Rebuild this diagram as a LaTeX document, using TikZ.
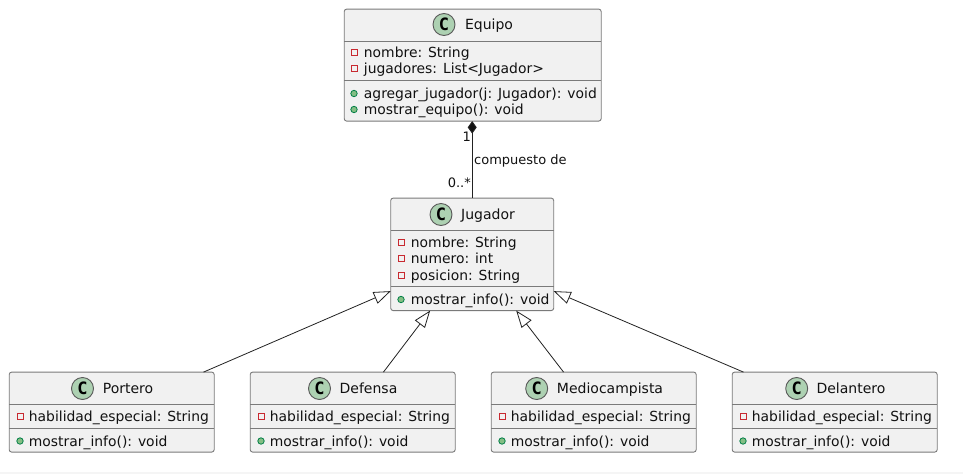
\documentclass[tikz,border=0pt]{standalone}
\usepackage{fontspec}
\setmainfont{DejaVu Sans}
\newfontfamily\badgefont{DejaVu Sans Mono}
\usetikzlibrary{arrows.meta,calc}
\definecolor{boxfill}{HTML}{F1F1F1}
\definecolor{boxline}{HTML}{7A7A7A}
\definecolor{classgreen}{HTML}{ADD1B2}
\definecolor{privred}{HTML}{C82930}
\definecolor{pubfill}{HTML}{84BE84}
\definecolor{publine}{HTML}{038048}
\definecolor{ink}{HTML}{111111}
\definecolor{wire}{HTML}{222222}
\tikzset{
  classbox/.style={draw=boxline,fill=boxfill,line width=.9pt,rounded corners=2.5pt,inner sep=0pt,outer sep=0pt,anchor=north west},
  sepline/.style={draw=boxline,line width=.9pt},
  badge/.style={circle,draw=ink!70,fill=classgreen,line width=.9pt,minimum size=22pt,inner sep=0pt,text=black,font=\fontsize{17}{17}\badgefont\bfseries},
  privmark/.style={rectangle,draw=privred,line width=.9pt,minimum size=6pt,inner sep=0pt},
  pubmark/.style={circle,draw=publine,fill=pubfill,line width=.8pt,minimum size=6.4pt,inner sep=0pt},
  member/.style={anchor=base west,inner sep=0pt,text=ink,font=\fontsize{13.9}{16}\selectfont},
  titletext/.style={anchor=base,inner sep=0pt,text=ink,font=\fontsize{14}{16}\selectfont},
  linktext/.style={inner sep=0pt,text=ink,font=\fontsize{13}{15}\selectfont},
  inherit/.style={draw=wire,line width=.8pt,{Triangle[open,length=17pt,width=12.5pt,fill=white]}-},
  compose/.style={draw=wire,line width=.9pt,{Diamond[length=12.5pt,width=9pt,fill=ink]}-},
}
\newcommand{\classbox}[7]{% name x y w h sep1 sep2
  \node[classbox,minimum width=#4pt,minimum height=#5pt] (#1) at (#2-.3,#3-.4) {};
  \draw[sepline] (#2-.3,#6-.4) -- ++(#4,0);
  \draw[sepline] (#2-.3,#7-.4) -- ++(#4,0);
}
\newcommand{\priv}[5]{% name markx textx y text
  \node[privmark] (#1m) at (#2-.5,#4-.5) {};
  \node[member] (#1) at (#3-.3,#4+4.5) {#5};
}
\newcommand{\publ}[5]{%
  \node[pubmark] (#1m) at (#2-.5,#4-.5) {};
  \node[member] (#1) at (#3-.3,#4+4.5) {#5};
}
\begin{document}
\begin{tikzpicture}[x=1pt,y=-1pt]
\useasboundingbox (0,0) rectangle (963,474);
\fill[white] (0,0) rectangle (963,474);
\fill[black!4] (0,471.5) rectangle (963,474);

% Equipo
\classbox{equipo}{344.5}{9.5}{257}{112}{41.5}{80.5}
\node[badge] (equipoC) at (444,24.5) {C};
\node[titletext] (equipoT) at (489,29) {Equipo};
\priv{eqa}{354.5}{364}{53}{nombre: String}
\priv{eqb}{354.5}{364}{69}{jugadores: List<Jugador>}
\publ{eqc}{354.5}{364}{94}{agregar\_jugador(j: Jugador): void}
\publ{eqd}{354.5}{364}{110}{mostrar\_equipo(): void}

% Jugador
\classbox{jugador}{391}{198.5}{163}{112.5}{230.5}{287}
\node[badge] (jugadorC) at (441,214.5) {C};
\node[titletext] (jugadorT) at (488,219) {Jugador};
\priv{jua}{401.5}{411}{243}{nombre: String}
\priv{jub}{401.5}{411}{259}{numero: int}
\priv{juc}{401.5}{411}{276}{posicion: String}
\publ{jud}{401.5}{411}{300}{mostrar\_info(): void}

% Portero
\classbox{portero}{9.5}{372.5}{205}{80}{404.5}{428.5}
\node[badge] (porteroC) at (82.5,388.5) {C};
\node[titletext] (porteroT) at (128,393) {Portero};
\priv{poa}{20.5}{29}{416.5}{habilidad\_especial: String}
\publ{pob}{20.5}{29}{441.5}{mostrar\_info(): void}

% Defensa
\classbox{defensa}{250.5}{372.5}{205}{80}{404.5}{428.5}
\node[badge] (defensaC) at (319.5,388.5) {C};
\node[titletext] (defensaT) at (368.5,393) {Defensa};
\priv{dea}{261.5}{270}{416.5}{habilidad\_especial: String}
\publ{deb}{261.5}{270}{441.5}{mostrar\_info(): void}

% Mediocampista
\classbox{medio}{491.5}{372.5}{205}{80}{404.5}{428.5}
\node[badge] (medioC) at (536.7,388.5) {C};
\node[titletext] (medioT) at (610,393) {Mediocampista};
\priv{mea}{502.5}{511}{416.5}{habilidad\_especial: String}
\publ{meb}{502.5}{511}{441.5}{mostrar\_info(): void}

% Delantero
\classbox{delantero}{732.5}{372.5}{205}{80}{404.5}{428.5}
\node[badge] (delanteroC) at (796.7,388.5) {C};
\node[titletext] (delanteroT) at (851,393) {Delantero};
\priv{dla}{743.5}{752}{416.5}{habilidad\_especial: String}
\publ{dlb}{743.5}{752}{441.5}{mostrar\_info(): void}

% Connectors
\draw[compose] (equipo.south -| jugador.north) -- (jugador.north);
\draw[inherit] ($(jugador.north west)!.827!(jugador.south west)$) -- ($(portero.north west)!.948!(portero.north east)$);
\draw[inherit] ($(jugador.south west)!.242!(jugador.south east)$) -- ($(defensa.north west)!.65!(defensa.north east)$);
\draw[inherit] ($(jugador.south west)!.77!(jugador.south east)$) -- ($(medio.north west)!.353!(medio.north east)$);
\draw[inherit] ($(jugador.north east)!.827!(jugador.south east)$) -- ($(delantero.north west)!.055!(delantero.north east)$);

% Link labels
\node[linktext,anchor=base east] (mult1) at (471,141) {1};
\node[linktext,anchor=base east] (mult2) at (471,187) {0..*};
\node[linktext,anchor=base west] (complabel) at (474,164.5) {compuesto de};
\end{tikzpicture}
\end{document}
